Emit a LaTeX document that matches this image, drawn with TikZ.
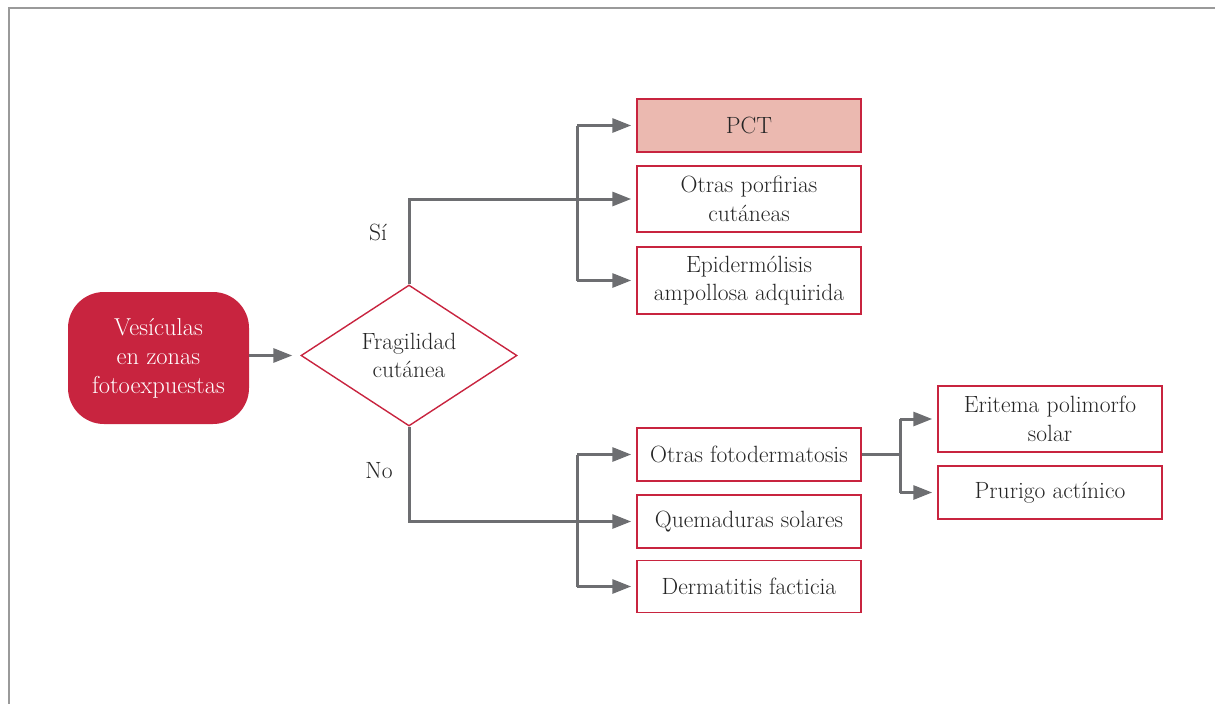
\documentclass[tikz,border=0pt]{standalone}
\usetikzlibrary{shapes.geometric,arrows.meta}
\definecolor{crim}{HTML}{C8243F}
\definecolor{pinkf}{HTML}{EBB9B0}
\definecolor{arrc}{HTML}{6D6E71}
\definecolor{txtc}{HTML}{252525}
\definecolor{framec}{HTML}{9A9A9A}
\begin{document}
\begin{tikzpicture}[x=1pt,y=-1pt,
  every node/.style={font=\fontsize{23.5}{28.5}\selectfont, text=txtc, align=center},
  box/.style={draw=crim, line width=1.5pt, minimum width=224pt, inner sep=0pt},
  startbox/.style={fill=crim, rounded corners=36pt, minimum width=181pt, minimum height=132pt, inner sep=0pt, text=white, font=\fontsize{24.5}{29}\selectfont},
  dia/.style={diamond, draw=crim, line width=1.4pt, minimum width=216pt, minimum height=141pt, inner sep=0pt},
  conn/.style={draw=arrc, line width=3pt},
  arr/.style={conn, -{Triangle[length=19pt,width=14pt]}, shorten >=5pt}
]
\useasboundingbox (0,0) rectangle (1215,704);
\draw[framec, line width=1.5pt] (1215,8) -- (9,8) -- (9,704);

\node[startbox] (start) at (158.5,358) {Ves\'iculas\\en zonas\\fotoexpuestas};
\node[dia] (dia) at (409,355.5) {Fragilidad\\cut\'anea};

\node[box, fill=pinkf, minimum height=53pt] (pct) at (749,125.5) {PCT};
\node[box, minimum height=66pt] (opc) at (749,199) {Otras porfirias\\cut\'aneas};
\node[box, minimum height=67pt] (epi) at (749,280.5) {Epiderm\'olisis\\ampollosa adquirida};
\node[box, minimum height=53pt] (ofd) at (749,454.5) {Otras fotodermatosis};
\node[box, minimum height=53pt] (que) at (749,521.5) {Quemaduras solares};
\node[box, minimum height=52pt] (der) at (749,586.5) {Dermatitis facticia};
\node[box, minimum height=66pt] (eri) at (1050,419) {Eritema polimorfo\\solar};
\node[box, minimum height=53pt] (pru) at (1050,492.5) {Prurigo act\'inico};

\node (si) at (378,232) {S\'i};
\node (no) at (379,471) {No};

\coordinate (bx) at (577,0);
\coordinate (rx) at (900,0);

\draw[arr, shorten >=8pt] (start.east |- dia.west) -- (dia.west);

\draw[arr] (dia.north) |- (opc.west);
\draw[conn] (bx |- pct.west) -- (bx |- epi.west);
\draw[arr] (bx |- pct.west) -- (pct.west);
\draw[arr] (bx |- epi.west) -- (epi.west);

\draw[arr] (dia.south) |- (que.west);
\draw[conn] (bx |- ofd.west) -- (bx |- der.west);
\draw[arr] (bx |- ofd.west) -- (ofd.west);
\draw[arr] (bx |- der.west) -- (der.west);

\draw[conn] (ofd.east) -- (rx |- ofd.east);
\draw[conn] (rx |- eri.west) -- (rx |- pru.west);
\draw[arr] (rx |- eri.west) -- (eri.west);
\draw[arr] (rx |- pru.west) -- (pru.west);
\end{tikzpicture}
\end{document}
